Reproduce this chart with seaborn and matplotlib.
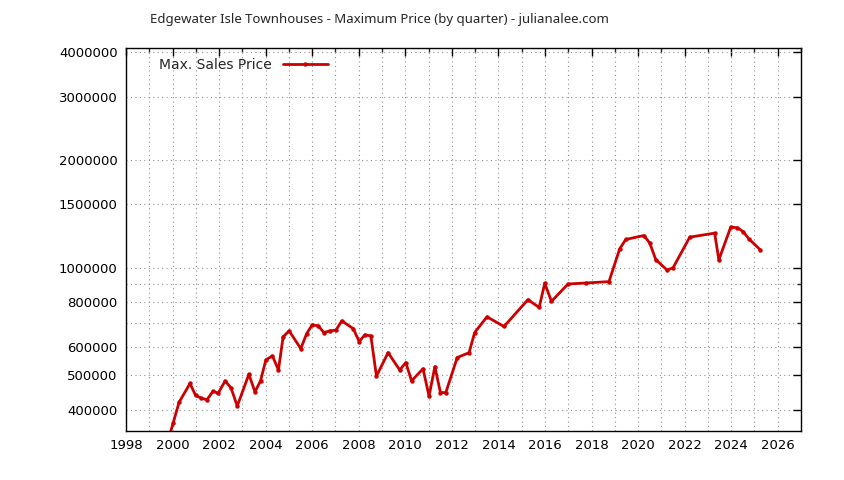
import matplotlib
matplotlib.use("Agg")
import matplotlib.pyplot as plt
import seaborn as sns
import pandas as pd
from matplotlib.ticker import FixedLocator, NullFormatter, FixedFormatter

title = "Edgewater Isle Townhouses - Maximum Price (by quarter) - julianalee.com"
series_name = "Max. Sales Price"

years = [1999.78, 2000.03, 2000.28, 2000.75, 2000.99, 2001.24, 2001.48, 2001.74, 2001.96,
         2002.26, 2002.51, 2002.78, 2003.28, 2003.54, 2003.78, 2004.01, 2004.29, 2004.55,
         2004.75, 2005.01, 2005.51, 2005.76, 2006.00, 2006.26, 2006.50, 2006.76, 2007.02,
         2007.27, 2007.76, 2008.02, 2008.26, 2008.52, 2008.76, 2009.26, 2009.76, 2010.02,
         2010.27, 2010.76, 2011.02, 2011.27, 2011.51, 2011.74, 2012.23, 2012.74, 2012.98,
         2013.51, 2014.24, 2015.27, 2015.75, 2015.99, 2016.28, 2016.99, 2017.78, 2018.75,
         2019.21, 2019.47, 2020.25, 2020.50, 2020.76, 2021.24, 2021.50, 2022.22, 2023.29,
         2023.47, 2023.98, 2024.27, 2024.51, 2024.76, 2025.25]

prices = [325000, 369000, 421000, 475000, 440000, 432000, 428000, 452000, 446000,
          483000, 462000, 411000, 504000, 450000, 483000, 553000, 567000, 518000,
          641000, 666000, 594000, 654000, 692000, 688000, 659000, 666000, 669000,
          710000, 676000, 622000, 649000, 645000, 498000, 579000, 518000, 543000,
          483000, 522000, 438000, 529000, 448000, 448000, 561000, 579000, 659000,
          729000, 685000, 814000, 774000, 904000, 805000, 900000, 906000, 914000,
          1128000, 1198000, 1229000, 1172000, 1053000, 985000, 998000, 1216000, 1248000,
          1051000, 1297000, 1292000, 1261000, 1203000, 1121000]

x_major = list(range(1998, 2027, 2))
x_minor = list(range(1998, 2028, 1))
y_labeled = [400000, 500000, 600000, 800000, 1000000, 1500000, 2000000, 3000000, 4000000]
y_unlabeled = [700000, 900000]

df = pd.DataFrame({"year": years, "price": prices})

sns.set_style("white")
plt.rcParams["font.family"] = ["DejaVu Sans"]

fig = plt.figure(figsize=(8.44, 4.80), dpi=100)
ax = fig.add_axes([126 / 844, 1 - 431 / 480, (801 - 126) / 844, (431 - 48) / 480])

sns.lineplot(data=df, x="year", y="price", ax=ax, color="#cc0000", linewidth=2,
             marker="o", markersize=3.2, markeredgewidth=0, label=series_name)

ax.set_yscale("log")
ax.set_xlim(1998, 2027)
ax.set_ylim(350000, 4100000)

ax.xaxis.set_major_locator(FixedLocator(x_major))
ax.xaxis.set_minor_locator(FixedLocator(x_minor))
ax.set_xticklabels([str(v) for v in x_major])
ax.yaxis.set_major_locator(FixedLocator(y_labeled))
ax.yaxis.set_major_formatter(FixedFormatter([str(v) for v in y_labeled]))
ax.yaxis.set_minor_locator(FixedLocator(y_unlabeled))
ax.yaxis.set_minor_formatter(NullFormatter())

ax.tick_params(axis="both", which="major", direction="in", length=6, width=1,
               top=True, right=True, labelsize=9.5, colors="black", pad=6)
ax.tick_params(axis="both", which="minor", direction="in", length=3, width=1,
               top=True, right=True)

ax.grid(True, which="both", axis="both", color="#909090", linestyle=(0, (1, 3)), linewidth=0.8)
for s in ax.spines.values():
    s.set_color("black")
    s.set_linewidth(1)
ax.set_xlabel("")
ax.set_ylabel("")

leg = ax.legend(loc="upper left", bbox_to_anchor=(0.035, 1.0), frameon=False,
                markerfirst=False, fontsize=10, handlelength=3.2, handletextpad=0.8,
                borderaxespad=0.3)

fig.text(379 / 844, 1 - 19 / 480, title, ha="center", va="center", fontsize=9.5,
         family=["Noto Sans", "DejaVu Sans"])

fig.savefig("out.png", dpi=100)
